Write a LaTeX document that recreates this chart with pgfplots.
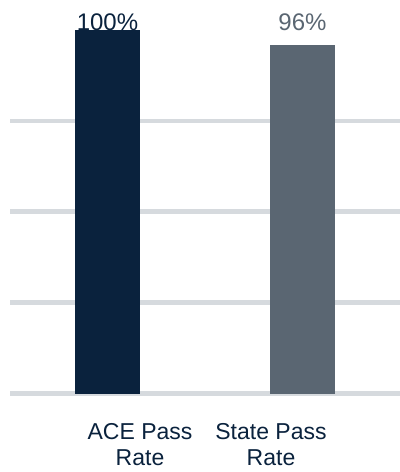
\documentclass[border=0pt]{standalone}
\usepackage{fontspec}
\setmainfont{Liberation Sans}
\usepackage{pgfplots}
\pgfplotsset{compat=1.18}
\definecolor{acenavy}{RGB}{10,34,61}
\definecolor{stategray}{RGB}{90,102,114}
\definecolor{gridgray}{RGB}{214,218,222}
\begin{document}
\begin{tikzpicture}
\begin{axis}[
    scale only axis,
    width=195pt, height=181.75pt,
    xmin=-0.5, xmax=1.5,
    ymin=0, ymax=100,
    axis line style={draw=none},
    tick style={draw=none},
    ytick={0,25,50,75},
    yticklabels={},
    ymajorgrids,
    grid style={line width=2.3pt, gridgray},
    xtick={0.1667,0.8385},
    xticklabels={{ACE Pass\\Rate},{State Pass\\Rate}},
    xticklabel style={align=center, text=acenavy,
        font=\fontsize{11.5}{13}\selectfont, yshift=-7pt},
    ybar, bar width=32.5pt,
    clip=false,
]
\addplot[fill=acenavy, draw=none, bar shift=0pt] coordinates {(0,100)};
\addplot[fill=stategray, draw=none, bar shift=0pt] coordinates {(1,96)};
\node[anchor=base, text=acenavy, font=\fontsize{12}{14}\selectfont, inner sep=0pt] at (axis cs:0,100) {100\%};
\node[anchor=base, text=stategray, font=\fontsize{12}{14}\selectfont, inner sep=0pt] at (axis cs:1,100) {96\%};
\end{axis}
\pgfresetboundingbox
\path ([xshift=-5pt,yshift=-39.25pt]current axis.south west) rectangle ([yshift=15pt]current axis.north east);
\end{tikzpicture}
\end{document}
